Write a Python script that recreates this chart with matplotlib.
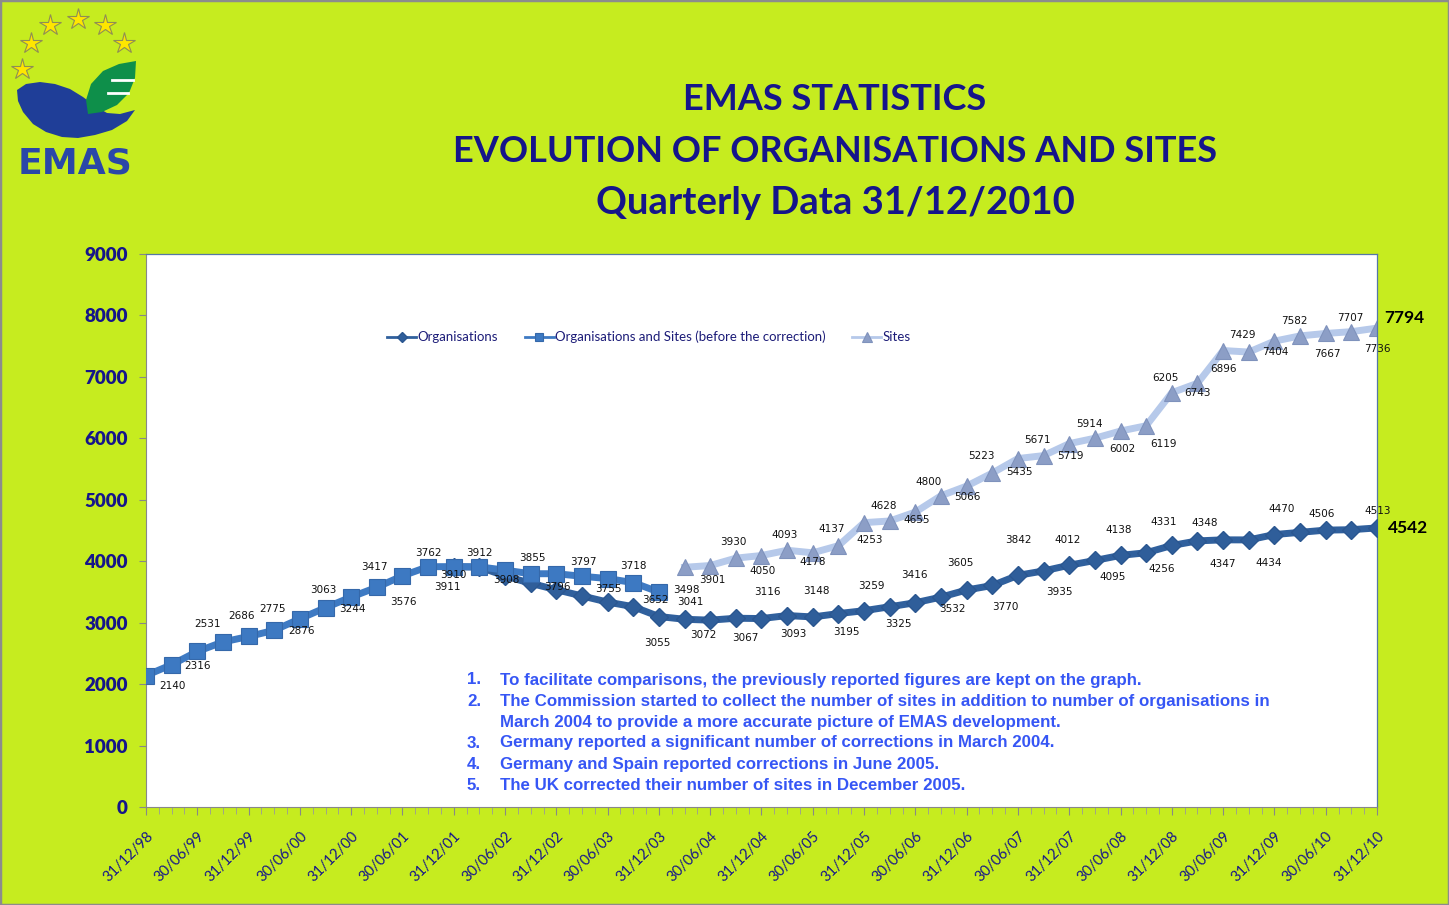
import numpy as np
import matplotlib
matplotlib.use('Agg')
import matplotlib.pyplot as plt
from matplotlib.patches import Polygon, Rectangle

# quarterly points from 31/12/98 to 31/12/10 (49 quarters)
n_quarters = 49
tick_labels = ['31/12/98', '30/06/99', '31/12/99', '30/06/00', '31/12/00', '30/06/01',
               '31/12/01', '30/06/02', '31/12/02', '30/06/03', '31/12/03', '30/06/04',
               '31/12/04', '30/06/05', '31/12/05', '30/06/06', '31/12/06', '30/06/07',
               '31/12/07', '30/06/08', '31/12/08', '30/06/09', '31/12/09', '30/06/10',
               '31/12/10']

# Organisations and Sites (before the correction): quarters 0..20
orgs_sites_before = [2140, 2316, 2531, 2686, 2775, 2876, 3063, 3244, 3417, 3576, 3762,
                     3911, 3912, 3908, 3855, 3796, 3797, 3755, 3718, 3652, 3498]

# Organisations: quarters 12..48
org_start = 12
organisations = [3910, 3905, 3760, 3640, 3536, 3435, 3335, 3260, 3100,
                 3055, 3041, 3072, 3067, 3116, 3093, 3148, 3195, 3259, 3325, 3416,
                 3532, 3605, 3770, 3842, 3935, 4012, 4095, 4138, 4256, 4331, 4348,
                 4347, 4434, 4470, 4506, 4513, 4542]

# Sites: quarters 21..48
sites_start = 21
sites = [3901, 3930, 4050, 4093, 4178, 4137, 4253, 4628, 4655, 4800, 5066, 5223, 5435,
         5671, 5719, 5914, 6002, 6119, 6205, 6743, 6896, 7429, 7404, 7582, 7667, 7707,
         7736, 7794]

footnotes = [
    ('1.', 'To facilitate comparisons, the previously reported figures are kept on the graph.'),
    ('2.', 'The Commission started to collect the number of sites in addition to number of organisations in'),
    ('', 'March 2004 to provide a more accurate picture of EMAS development.'),
    ('3.', 'Germany reported a significant number of corrections in March 2004.'),
    ('4.', 'Germany and Spain reported corrections in June 2005.'),
    ('5.', 'The UK corrected their number of sites in December 2005.'),
]

# label offsets in pixels (dx, dy with dy pointing down), as placed in the original
sq_offsets = [(26, 10), (26, 1), (10, -27), (19, -26), (24, -27), (27, 1), (23, -29),
              (27, 1), (23, -30), (27, 15), (26, -23), (19, 20), (26, -14), (27, 13),
              (27, -12), (27, 13), (27, -12), (26, 13), (26, -13), (22, 17), (27, -2)]
org_offsets = {12: (0, 8)}
org_off_tail = [(-27, 24), (-20, -18), (-33, 17), (-16, 19), (-20, -24), (-19, 17),
                (-22, -23), (-18, 21), (-18, -21), (-17, 21), (-27, -22), (-14, 19),
                (-32, -22), (-13, 32), (-25, -31), (-10, 27), (-27, -20), (-8, 22),
                (-27, -23), (-10, 24), (-34, -19), (-18, -17), (-26, 24), (-6, 28),
                (-18, -23), (-4, -16), (26, -19)]
for k, off in enumerate(org_off_tail):
    org_offsets[21 + k] = off
site_offsets = [(28, 13), (23, -24), (27, 13), (23, -21), (26, 12), (19, -24), (31, -6),
                (20, -17), (27, -1), (13, -30), (26, 1), (15, -30), (27, -1), (19, -19),
                (27, 0), (20, -20), (27, 11), (43, 13), (19, -48), (26, 0), (26, -14),
                (19, -16), (27, 0), (20, -20), (27, 18), (25, -15), (26, 17)]

W, H = 1449, 905
bg = '#C6EC1F'
navy = '#15158A'

fig = plt.figure(figsize=(W / 100, H / 100), dpi=100, facecolor=bg)
fig.patches.append(Rectangle((0, 0), 1, 1, transform=fig.transFigure, fill=False,
                             edgecolor='#8C8C8C', lw=2.5))

ax = fig.add_axes([146 / W, 1 - 807 / H, (1377 - 146) / W, (807 - 254) / H])
ax.set_facecolor('white')

x_sq = np.arange(len(orgs_sites_before))
x_org = np.arange(org_start, org_start + len(organisations))
x_site = np.arange(sites_start, sites_start + len(sites))

ax.plot(x_site, sites, color='#B6C9EA', lw=5, marker='^', ms=12,
        mfc='#8C9EC6', mec='#7F92BC', mew=0.8, zorder=2, label='Sites')
ax.plot(x_org, organisations, color='#30609D', lw=5, marker='D', ms=9,
        mfc='#2F5E9A', mec='#2A5690', zorder=3, label='Organisations')
ax.plot(x_sq, orgs_sites_before, color='#3E7AC3', lw=5, marker='s', ms=11,
        mfc='#3D79C2', mec='#3568AA', mew=0.8, zorder=4,
        label='Organisations and Sites (before the correction)')

lab_kw = dict(textcoords='offset pixels', ha='center', va='center',
              fontsize=7.5, color='#111111', family='DejaVu Sans', zorder=6)
for i, v in enumerate(orgs_sites_before):
    dx, dy = sq_offsets[i]
    ax.annotate(str(v), (x_sq[i], v), xytext=(dx, -dy), **lab_kw)
for i, v in zip(x_org, organisations):
    if i in org_offsets and i != n_quarters - 1:
        dx, dy = org_offsets[i]
        ax.annotate(str(v), (i, v), xytext=(dx, -dy), **lab_kw)
for k, v in enumerate(sites[:-1]):
    dx, dy = site_offsets[k]
    ax.annotate(str(v), (x_site[k], v), xytext=(dx, -dy), **lab_kw)

big_kw = dict(textcoords='offset pixels', ha='left', va='center', fontsize=12.5,
              fontweight='bold', color='black', family=['Lato', 'DejaVu Sans'],
              annotation_clip=False, zorder=6)
ax.annotate(str(organisations[-1]), (x_org[-1], organisations[-1]), xytext=(11, 0), **big_kw)
ax.annotate(str(sites[-1]), (x_site[-1], sites[-1]), xytext=(7, 10), **big_kw)

ax.set_xlim(0, n_quarters - 1)
ax.set_ylim(0, 9000)
ax.set_yticks(np.arange(0, 9001, 1000))
ax.set_xticks(np.arange(0, n_quarters, 2))
ax.set_xticks(np.arange(0, n_quarters - 0.5, 0.5), minor=True)
ax.set_xticklabels(tick_labels, rotation=45, ha='right', va='top',
                   rotation_mode='anchor', fontsize=10.5, color=navy,
                   family=['Lato', 'DejaVu Sans'])
for t in ax.get_yticklabels():
    t.set_fontsize(13.5)
    t.set_fontweight('heavy')
    t.set_color(navy)
    t.set_family(['Lato', 'DejaVu Sans'])
ax.tick_params(axis='y', direction='out', length=5, color='#888888', pad=8)
ax.tick_params(axis='x', which='major', direction='out', length=6, color='#888888', pad=10)
ax.tick_params(axis='x', which='minor', direction='out', length=5, color='#999999')
for side in ['left', 'bottom']:
    ax.spines[side].set_color('#888888')
for side in ['top', 'right']:
    ax.spines[side].set_color('#5577A6')
    ax.spines[side].set_linewidth(0.9)

handles, labels = ax.get_legend_handles_labels()
order = [1, 2, 0]
leg = fig.legend([handles[i] for i in order], [labels[i] for i in order],
                 loc='center', bbox_to_anchor=(649 / W, 1 - 337 / H), ncol=3,
                 frameon=False, handlelength=2.2, columnspacing=2.0,
                 handletextpad=0.1, markerscale=0.55,
                 prop={'family': ['Lato', 'DejaVu Sans'], 'size': 9.5})
for t in leg.get_texts():
    t.set_color('#1C1C78')
for lh in leg.get_lines():
    lh.set_linewidth(2)

title_lines = ['EMAS STATISTICS', 'EVOLUTION OF ORGANISATIONS AND SITES',
               'Quarterly Data 31/12/2010']
title_sizes = [26, 26, 27.5]
for k, line in enumerate(title_lines):
    fig.text(835 / W, 1 - (99 + 52 * k) / H, line, ha='center', va='center',
             fontsize=title_sizes[k], fontweight='bold', color=navy,
             family=['Lato', 'DejaVu Sans'])

fn_font = ['Liberation Sans', 'DejaVu Sans']
for k, (num, txt) in enumerate(footnotes):
    y = 1 - (680 + 21 * k) / H
    if num:
        fig.text(467 / W, y, num, ha='left', va='center', fontsize=12.15,
                 fontweight='bold', color='#3656F5', family=fn_font)
    fig.text(500 / W, y, txt, ha='left', va='center', fontsize=12.15,
             fontweight='bold', color='#3656F5', family=fn_font)

# EMAS logo
lax = fig.add_axes([0, 1 - 190 / H, 150 / W, 190 / H])
lax.set_xlim(0, 150)
lax.set_ylim(190, 0)
lax.axis('off')
star_x = [22, 31, 50, 78, 105, 124]
star_y = [69, 43, 25, 19, 25, 43]
lax.plot(star_x, star_y, ls='none', marker='*', ms=16, mfc='#FFE600',
         mec='#8E8E55', mew=0.8)
blue = Polygon([(17, 90), (26, 84), (40, 82), (55, 84), (70, 89), (83, 97), (95, 106),
                (107, 113), (120, 114), (135, 110), (127, 121), (112, 130), (95, 135),
                (78, 138), (62, 137), (46, 132), (33, 124), (23, 112), (18, 101)],
               closed=True, fc='#1F3E98', ec='none')
lax.add_patch(blue)
green = Polygon([(88, 114), (86, 100), (91, 84), (103, 71), (119, 64), (136, 61),
                 (135, 78), (129, 93), (117, 105), (102, 112)],
                closed=True, fc='#0E8F4A', ec='none')
lax.add_patch(green)
lax.plot([112, 133], [80, 80], color='white', lw=2)
lax.plot([108, 128], [93, 93], color='white', lw=2)
lax.text(75, 164, 'EMAS', ha='center', va='center', fontsize=26, fontweight='bold',
         color='#2A47A8', family='DejaVu Sans')

fig.savefig('out.png', dpi=100, facecolor=bg)
